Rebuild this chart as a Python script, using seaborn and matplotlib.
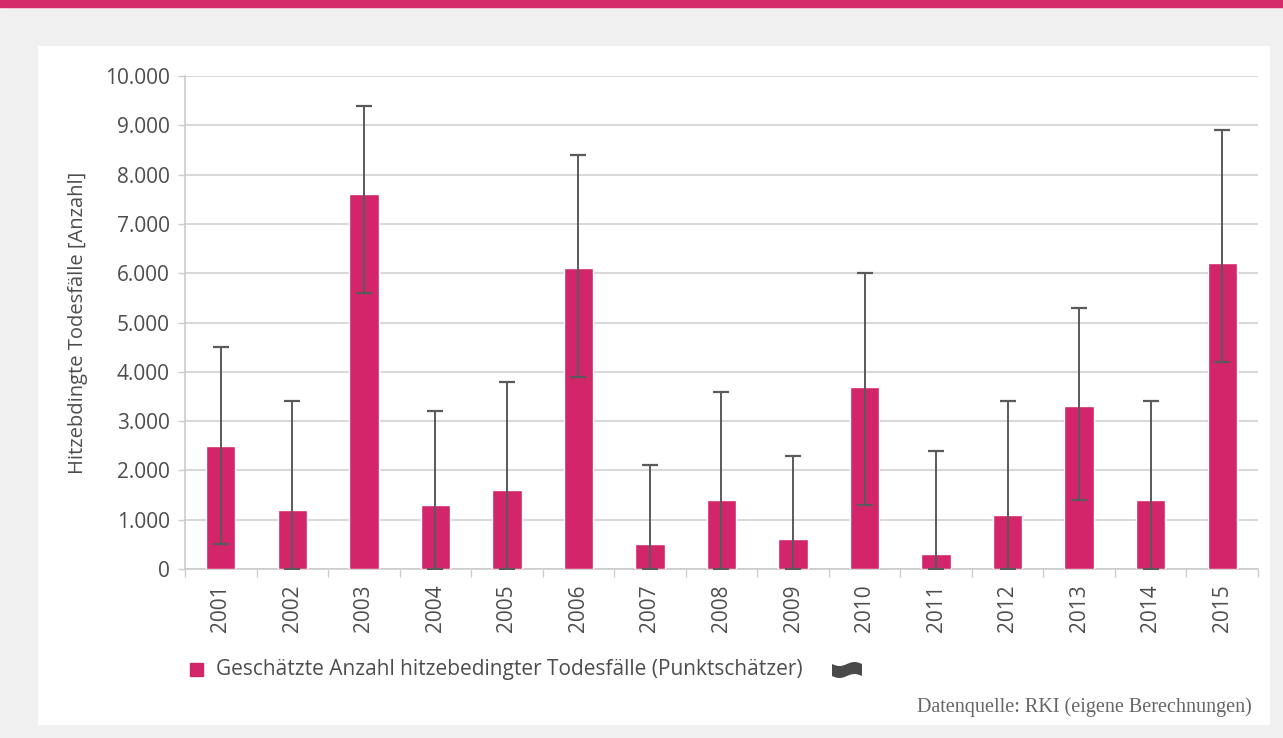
import matplotlib
matplotlib.use("Agg")
import matplotlib.pyplot as plt
import matplotlib.patches as mpatches
from matplotlib.ticker import FuncFormatter, FixedLocator
import seaborn as sns
import numpy as np
import pandas as pd

years = ["2001", "2002", "2003", "2004", "2005", "2006", "2007", "2008",
         "2009", "2010", "2011", "2012", "2013", "2014", "2015"]
estimates = [2500, 1200, 7600, 1300, 1600, 6100, 500, 1400, 600, 3700, 300, 1100, 3300, 1400, 6200]
lower = [500, 0, 5600, 0, 0, 3900, 0, 0, 0, 1300, 0, 0, 1400, 0, 4200]
upper = [4500, 3400, 9400, 3200, 3800, 8400, 2100, 3600, 2300, 6000, 2400, 3400, 5300, 3400, 8900]

legend_label = "Geschätzte Anzahl hitzebedingter Todesfälle (Punktschätzer)"
y_label = "Hitzebdingte Todesfälle [Anzahl]"
source = "Datenquelle: RKI (eigene Berechnungen)"

sns.set_theme(style="white")
plt.rcParams['font.family'] = ['Open Sans', 'DejaVu Sans']

BAR = "#d3266a"
TXT = "#4d4d4d"
GRID = "#d9d9d9"
FS = 15

fig = plt.figure(figsize=(12.83, 7.38), dpi=100)
fig.patch.set_facecolor("#f0f0f0")
# top pink band
fig.add_artist(mpatches.Rectangle((0, 0.9905), 1, 0.0095, transform=fig.transFigure,
                                  color="#d62b6b", zorder=0))
# white panel
fig.add_artist(mpatches.Rectangle((0.0296, 0.0176), 0.9604, 0.9201, transform=fig.transFigure,
                                  facecolor="white", edgecolor="none", zorder=0))

ax = fig.add_axes([0.1442, 0.229, 0.8363, 0.668])
ax.set_facecolor("white")

df = pd.DataFrame({"year": years, "value": estimates})
sns.barplot(data=df, x="year", y="value", color=BAR, width=0.41, saturation=1,
            ax=ax, zorder=3, errorbar=None)

est = np.array(estimates)
yerr = np.vstack([est - np.array(lower), np.array(upper) - est])
ax.errorbar(np.arange(len(years)), est, yerr=yerr, fmt="none", ecolor="#5a5a5a",
            elinewidth=1.4, capsize=6, capthick=1.6, zorder=4)

ax.set_ylim(0, 10000)
ax.set_xlim(-0.5, len(years) - 0.5)
ax.set_yticks(np.arange(0, 10001, 1000))
ax.yaxis.set_major_formatter(FuncFormatter(lambda v, p: f"{int(v):,}".replace(",", ".")))
ax.grid(axis="y", color=GRID, linewidth=1.5, zorder=0)
ax.set_axisbelow(True)

for s in ["top", "right"]:
    ax.spines[s].set_visible(False)
ax.spines["left"].set_color("#cccccc")
ax.spines["left"].set_linewidth(1.2)
ax.spines["bottom"].set_color("#cccccc")
ax.spines["bottom"].set_linewidth(1.2)

ax.tick_params(axis="y", which="major", left=True, length=5, width=1, color="#cccccc",
               labelsize=FS, labelcolor=TXT, pad=6)
ax.tick_params(axis="x", which="major", bottom=False, labelsize=FS, labelcolor=TXT,
               labelrotation=90, pad=5)
ax.xaxis.set_minor_locator(FixedLocator(np.arange(-0.5, len(years), 1.0)))
ax.tick_params(axis="x", which="minor", bottom=True, length=6, width=1, color="#cccccc")

ax.set_xlabel("")
ax.set_ylabel(y_label, fontsize=14.5, color=TXT, labelpad=12)

# legend
fig.add_artist(mpatches.Rectangle((190 / 1283, 1 - 676 / 738), 13 / 1283, 13 / 738,
                                  transform=fig.transFigure, color=BAR))
fig.text(216 / 1283, 1 - 669 / 738, legend_label, fontsize=FS, color=TXT,
         va="center", ha="left")
t = np.linspace(0, 1, 40)
wx = 832 + 30 * t
top_y = 664 + 2.0 * np.sin(2 * np.pi * t)
bot_y = 676 + 2.0 * np.sin(2 * np.pi * t)
poly = np.vstack([np.column_stack([wx, top_y]), np.column_stack([wx[::-1], bot_y[::-1]])])
poly[:, 0] /= 1283
poly[:, 1] = 1 - poly[:, 1] / 738
fig.add_artist(mpatches.Polygon(poly, closed=True, transform=fig.transFigure,
                                facecolor="#4a4a4a", edgecolor="none"))

fig.text(1252 / 1283, 1 - 707 / 738, source, fontsize=14.5, color="#666666",
         ha="right", va="center", family=["Liberation Serif", "DejaVu Serif"])

fig.savefig("out.png", dpi=100, facecolor=fig.get_facecolor())
